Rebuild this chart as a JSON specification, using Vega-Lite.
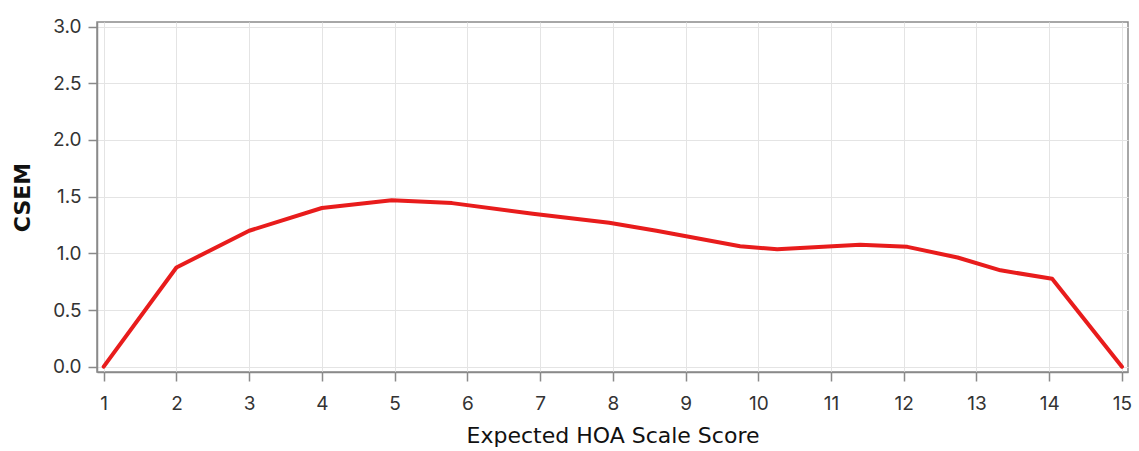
{
  "$schema": "https://vega.github.io/schema/vega-lite/v6.json",
  "width": 1031,
  "height": 350,
  "autosize": {"type": "none"},
  "padding": {"left": 97, "top": 22, "right": 11, "bottom": 79},
  "background": "white",
  "config": {
    "view": {"stroke": "#8a8a8a", "strokeWidth": 1.5},
    "font": "Inter",
    "axis": {
      "labelFont": "Inter",
      "titleFont": "DejaVu Sans",
      "labelFontSize": 19,
      "labelColor": "#333333",
      "titleColor": "#111111",
      "gridColor": "#e4e4e4",
      "gridWidth": 1,
      "domainColor": "#8a8a8a",
      "domainWidth": 1.5,
      "tickColor": "#8a8a8a",
      "tickWidth": 1.5,
      "tickSize": 9
    }
  },
  "data": {
    "values": [
      {"score": 1, "csem": 0.0},
      {"score": 2, "csem": 0.875},
      {"score": 3, "csem": 1.199},
      {"score": 4, "csem": 1.4},
      {"score": 4.96, "csem": 1.468},
      {"score": 5.79, "csem": 1.443},
      {"score": 6.9, "csem": 1.35},
      {"score": 7.95, "csem": 1.27},
      {"score": 8.6, "csem": 1.2},
      {"score": 9.75, "csem": 1.063},
      {"score": 10.26, "csem": 1.035},
      {"score": 11.4, "csem": 1.075},
      {"score": 12.05, "csem": 1.057},
      {"score": 12.74, "csem": 0.963},
      {"score": 13.33, "csem": 0.85},
      {"score": 14.04, "csem": 0.775},
      {"score": 15, "csem": 0.0}
    ]
  },
  "mark": {"type": "line", "color": "#e81c1c", "strokeWidth": 4, "strokeJoin": "round", "strokeCap": "round", "clip": false},
  "encoding": {
    "x": {
      "field": "score",
      "type": "quantitative",
      "scale": {"domain": [0.908, 15.083], "nice": false, "zero": false},
      "axis": {
        "values": [1,2,3,4,5,6,7,8,9,10,11,12,13,14,15],
        "format": "d",
        "title": "Expected HOA Scale Score",
        "titleFontSize": 22,
        "titleFontWeight": "normal",
        "titlePadding": 12,
        "labelPadding": 13,
        "labelFlush": false
      }
    },
    "y": {
      "field": "csem",
      "type": "quantitative",
      "scale": {"domain": [-0.047, 3.041], "nice": false, "zero": false},
      "axis": {
        "values": [0, 0.5, 1, 1.5, 2, 2.5, 3],
        "format": ".1f",
        "title": "CSEM",
        "titleFontSize": 22,
        "titleFontWeight": "bold",
        "titlePadding": 18,
        "labelPadding": 7
      }
    }
  }
}
